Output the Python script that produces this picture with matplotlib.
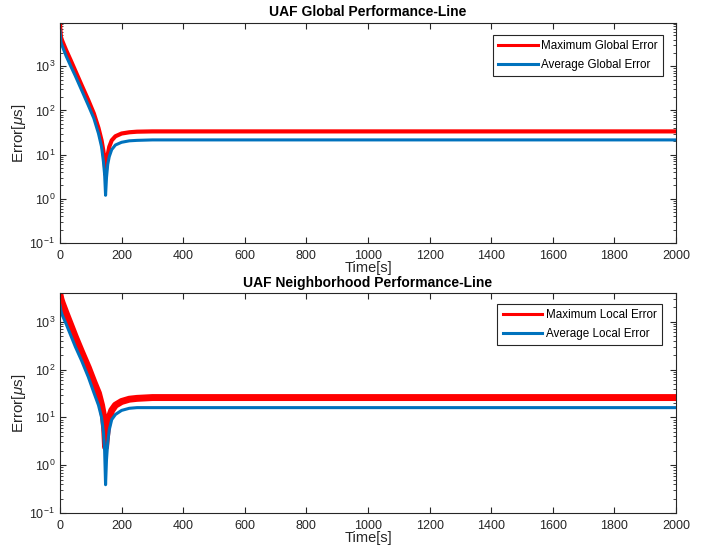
import numpy as np
import matplotlib
matplotlib.use("Agg")
import matplotlib.pyplot as plt
from matplotlib.ticker import LogLocator, NullFormatter

plt.rcParams['font.family'] = ['Liberation Sans', 'DejaVu Sans']
plt.rcParams['mathtext.fontset'] = 'custom'
plt.rcParams['mathtext.rm'] = 'Liberation Sans'
plt.rcParams['mathtext.it'] = 'Liberation Sans:italic'
plt.rcParams['axes.unicode_minus'] = False

# sample times [s]
t = [0, 3, 7, 20, 35, 50, 70, 92, 110, 125, 135, 141, 145, 148,
     151, 155, 160, 168, 180, 200, 225, 250, 300, 400, 2000]

# global errors [us]
glob_max = [9000, 4600, 3800, 2300, 1350, 780, 375, 170, 85, 40, 21, 12, 7, 3.5,
            6, 10, 15, 21, 26, 30, 32, 33, 33.5, 33.5, 33.5]
glob_avg = [6500, 3500, 2900, 1700, 1000, 600, 290, 130, 66, 30, 15, 7, 3.5, 1.2,
            3, 6, 9, 13, 16.5, 19, 20.5, 21, 21.5, 21.5, 21.5]

# neighborhood errors [us]
loc_max = [3700, 3000, 2500, 1500, 850, 480, 235, 110, 55, 32, 18, 11, 6, 2.4,
           4, 7, 10, 14, 18, 21.5, 24, 25, 26, 26, 26]
loc_avg = [2200, 1700, 1400, 900, 520, 300, 155, 70, 33, 18, 10, 5, 2, 0.39,
           1.3, 3, 5.5, 9, 11.5, 14, 15.5, 16, 16, 16, 16]

red = '#ff0000'
blue = '#0072bd'
grey = '#262626'

fig = plt.figure(figsize=(7.04, 5.48), dpi=100)
ax1 = fig.add_axes([0.0852, 0.5566, 0.8750, 0.4014])
ax2 = fig.add_axes([0.0852, 0.0639, 0.8750, 0.4014])


def style(ax, top):
    ax.set_yscale('log')
    ax.set_xlim(0, 2000)
    ax.set_ylim(0.1, top)
    ax.set_xticks(np.arange(0, 2001, 200))
    ax.yaxis.set_major_locator(LogLocator(base=10, numticks=10))
    ax.yaxis.set_minor_locator(LogLocator(base=10, subs=np.arange(2, 10), numticks=20))
    ax.yaxis.set_minor_formatter(NullFormatter())
    ax.tick_params(which='both', direction='in', top=True, right=True,
                   colors=grey, labelsize=9)
    ax.tick_params(which='major', length=4, width=0.8)
    ax.tick_params(which='minor', length=2, width=0.6)
    ax.tick_params(axis='x', pad=5)
    for s in ax.spines.values():
        s.set_color(grey)
        s.set_linewidth(0.8)
    ax.set_xlabel('Time[s]', fontsize=10.5, color=grey, labelpad=-1)
    ax.set_ylabel(r'Error[$\mu$s]', fontsize=11, color=grey, labelpad=1)


ax1.plot(t, glob_max, color=red, lw=3.0, label='Maximum Global Error')
ax1.plot(t, glob_avg, color=blue, lw=2.2, label='Average Global Error')
style(ax1, 9500)
ax1.set_title('UAF Global Performance-Line', fontsize=10, fontweight='bold', pad=5)

ax2.plot(t, loc_max, color=red, lw=5.0, label='Maximum Local Error')
ax2.plot(t, loc_avg, color=blue, lw=2.2, label='Average Local Error')
style(ax2, 4000)
ax2.set_title('UAF Neighborhood Performance-Line', fontsize=10, fontweight='bold', pad=4)

for ax, anchor in ((ax1, (0.979, 0.945)), (ax2, (0.977, 0.95))):
    leg = ax.legend(loc='upper right', fontsize=8.4, fancybox=False,
                    edgecolor=grey, framealpha=1, borderpad=0.45,
                    borderaxespad=0, handlelength=3.4, handletextpad=0.3,
                    labelspacing=0.55, bbox_to_anchor=anchor)
    leg.get_frame().set_linewidth(0.8)
    for ln in leg.get_lines():
        ln.set_linewidth(2.2)

fig.savefig('out.png', dpi=100, facecolor='white')
